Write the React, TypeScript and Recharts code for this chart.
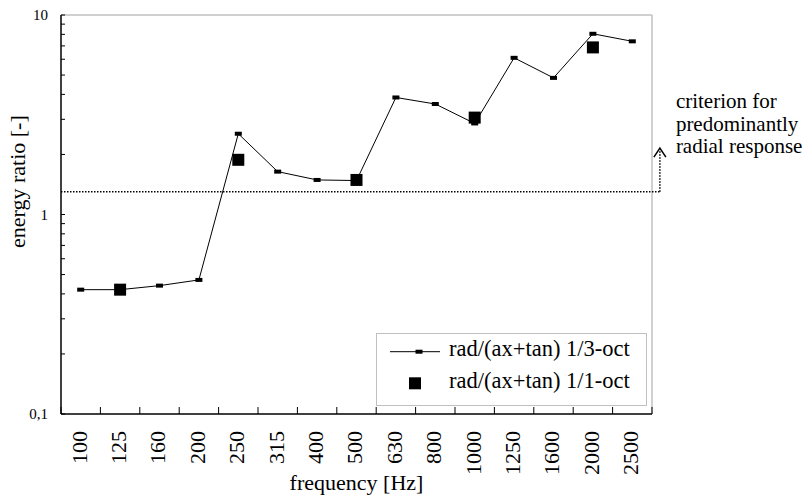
import React from 'react';
import { LineChart, Line, XAxis, YAxis, ReferenceLine, Legend } from 'recharts';

const frequencies = ['100', '125', '160', '200', '250', '315', '400', '500', '630', '800', '1000', '1250', '1600', '2000', '2500'];
const thirdOctave = [0.42, 0.42, 0.44, 0.47, 2.54, 1.64, 1.49, 1.48, 3.86, 3.58, 2.86, 6.1, 4.84, 8.05, 7.38];
const fullOctave: (number | null)[] = [null, 0.42, null, null, 1.88, null, null, 1.49, null, null, 3.06, null, null, 6.88, null];
const yTicks = [0.1, 0.2, 0.3, 0.4, 0.5, 0.6, 0.7, 0.8, 0.9, 1, 2, 3, 4, 5, 6, 7, 8, 9, 10];
const yTickLabels: Record<string, string> = { '0.1': '0,1', '1': '1', '10': '10' };
const criterion = 1.3;
const criterionArrowTop = 2.15;
const criterionText = ['criterion for', 'predominantly', 'radial response'];
const seriesNames = { third: 'rad/(ax+tan) 1/3-oct', octave: 'rad/(ax+tan) 1/1-oct' };

const FONT = "'Liberation Serif', 'Times New Roman', serif";

const data = frequencies.map((f, i) => ({
  x: i + 0.5,
  freq: f,
  third: thirdOctave[i],
  octave: fullOctave[i],
}));
const xTicks = Array.from({ length: frequencies.length + 1 }, (_, i) => i);

const DashDot = (p: any) => {
  if (p.cx == null || p.cy == null || p.value == null) return <g key={p.key} />;
  return <rect key={p.key} x={p.cx - 3.5} y={p.cy - 2} width={7} height={4} fill="#000" />;
};

const SquareDot = (p: any) => {
  if (p.cx == null || p.cy == null || p.value == null) return <g key={p.key} />;
  return <rect key={p.key} x={p.cx - 6} y={p.cy - 6} width={12} height={12} fill="#000" />;
};

const FreqTick = (p: any) => {
  const i = p.payload?.value;
  if (i == null || i >= frequencies.length) return <g />;
  const w = typeof p.width === 'number' && p.width > 0 ? p.width : 591;
  const half = w / frequencies.length / 2;
  const cx = p.x + half;
  const y = p.y;
  return (
    <text x={cx} y={y} transform={`rotate(-90 ${cx} ${y})`} textAnchor="end" dy="0.27em" fontSize={22} fill="#000" fontFamily={FONT}>
      {frequencies[i]}
    </text>
  );
};

const CriterionArrow = (p: any) => {
  const { x1, y1, x2, y2 } = p;
  return (
    <g>
      <line x1={x1} y1={y1} x2={x2} y2={y2 + 3} stroke="#000" strokeWidth={1.5} strokeDasharray="1.5 1.5" />
      <polyline points={`${x2 - 6},${y2 + 9} ${x2},${y2} ${x2 + 6},${y2 + 9}`} fill="none" stroke="#000" strokeWidth={1.5} />
      {criterionText.map((t, k) => (
        <text key={k} x={x2 + 16} y={y2 - 40 + k * 22.5} fontSize={21} fill="#000" fontFamily={FONT}>
          {t}
        </text>
      ))}
    </g>
  );
};

const LegendBox = (props: any) => {
  const payload: any[] = props.payload || [];
  const names: Record<string, string> = {};
  payload.forEach((e) => {
    names[e.dataKey] = e.value;
  });
  return (
    <svg width={271} height={73} style={{ display: 'block' }}>
      <rect x={0.5} y={0.5} width={270} height={72} fill="#fff" stroke="#c0c0c0" strokeWidth={1} />
      <line x1={14} y1={18.7} x2={64} y2={18.7} stroke="#000" strokeWidth={1} />
      <rect x={39.5} y={16.7} width={7} height={4} fill="#000" />
      <text x={73} y={23} fontSize={22.5} fill="#000" fontFamily={FONT}>
        {names.third || seriesNames.third}
      </text>
      <rect x={33} y={44.3} width={12} height={12} fill="#000" />
      <text x={73} y={55} fontSize={22.5} fill="#000" fontFamily={FONT}>
        {names.octave || seriesNames.octave}
      </text>
    </svg>
  );
};

const YLabel = () => (
  <text x={25} y={248} transform="rotate(-90 25 248)" textAnchor="start" fontSize={22} fill="#000" fontFamily={FONT}>
    energy ratio [-]
  </text>
);

export default function App() {
  return (
    <div style={{ position: 'absolute', left: 0, top: 0, width: 806, height: 502, background: '#fff' }}>
      <LineChart
        width={806}
        height={502}
        data={data}
        margin={{ top: 15, right: 154, bottom: 0, left: 0 }}
        style={{ fontFamily: FONT }}
      >
        <XAxis
          dataKey="x"
          type="number"
          domain={[0, frequencies.length]}
          ticks={xTicks}
          interval={0}
          allowDataOverflow
          height={88}
          tickSize={-7}
          tickMargin={24}
          tick={FreqTick}
          axisLine={{ stroke: '#000', strokeWidth: 1.5 }}
          tickLine={{ stroke: '#000', strokeWidth: 1 }}
          label={{ value: 'frequency [Hz]', position: 'insideBottom', offset: 12, fontSize: 22, fill: '#000' }}
        />
        <YAxis
          type="number"
          scale="log"
          domain={[0.1, 10]}
          ticks={yTicks}
          interval={0}
          allowDataOverflow
          width={61}
          tickSize={-4}
          tickMargin={17}
          tickFormatter={(v: number) => yTickLabels[String(v)] ?? ''}
          tick={{ fontSize: 15, fill: '#000' }}
          axisLine={{ stroke: '#000', strokeWidth: 1.5 }}
          tickLine={{ stroke: '#000', strokeWidth: 1 }}
          label={<YLabel />}
        />
        <ReferenceLine y={10} stroke="#c0c0c0" strokeWidth={1.5} />
        <ReferenceLine x={frequencies.length} stroke="#c0c0c0" strokeWidth={1.5} />
        <ReferenceLine
          segment={[{ x: 0, y: criterion }, { x: frequencies.length + 0.2, y: criterion }]}
          stroke="#000"
          strokeWidth={1.5}
          strokeDasharray="1.5 1.5"
          ifOverflow="visible"
        />
        <ReferenceLine
          segment={[{ x: frequencies.length + 0.2, y: criterion }, { x: frequencies.length + 0.2, y: criterionArrowTop }]}
          ifOverflow="visible"
          shape={CriterionArrow}
        />
        <Line
          dataKey="third"
          name={seriesNames.third}
          stroke="#000"
          strokeWidth={1}
          dot={DashDot}
          activeDot={false}
          isAnimationActive={false}
        />
        <Line
          dataKey="octave"
          name={seriesNames.octave}
          stroke="none"
          dot={SquareDot}
          activeDot={false}
          connectNulls={false}
          isAnimationActive={false}
        />
        <Legend
          layout="vertical"
          align="center"
          verticalAlign="middle"
          content={LegendBox}
          wrapperStyle={{ position: 'absolute', left: 376, top: 333, width: 271, height: 73 }}
        />
      </LineChart>
    </div>
  );
}
